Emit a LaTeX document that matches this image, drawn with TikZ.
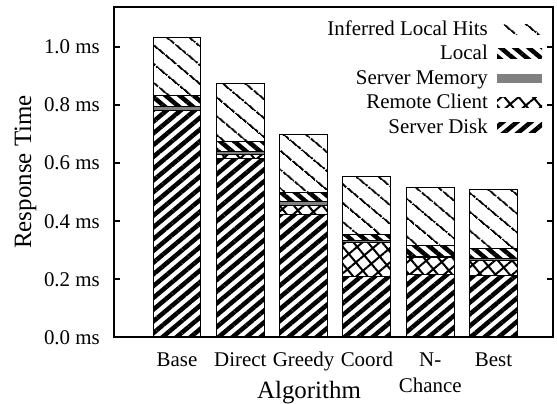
\documentclass[tikz,border=0pt]{standalone}
\usepackage{fontspec}
\setmainfont{Liberation Serif}
\usetikzlibrary{patterns.meta}
\definecolor{memgray}{RGB}{128,128,128}

\begin{document}
\begin{tikzpicture}[
    x=1bp, y=1bp,
    bar/.style={draw, line width=1bp},
    disk/.style={pattern={Lines[angle=40, distance=9bp, line width=4.5bp]}},
    remote/.style={pattern={Hatch[angle=40, distance=11bp, line width=2bp]}},
    mem/.style={fill=memgray},
    local/.style={pattern={Lines[angle=-40, distance=9bp, line width=4.5bp]}},
    inferred/.style={pattern={Lines[angle=-40, distance=15bp, line width=2bp]}},
    tickmark/.style={line width=1.5bp},
    ticklabel/.style={font=\fontsize{21}{26}\selectfont, inner sep=0pt},
    axislabel/.style={font=\fontsize{25}{28}\selectfont, inner sep=0pt}
]

% Page
\fill[white] (0,0) rectangle (557,403);
\useasboundingbox (0,0) rectangle (557,403);

\begin{scope}[shift={(177,66)}, x=63.3bp, y=290bp]

% Base
\draw[bar, disk] (-0.379,0) rectangle (0.379,0.780);
\draw[bar, mem] (-0.379,0.780) rectangle (0.379,0.794);
\draw[bar, local] (-0.379,0.794) rectangle (0.379,0.834);
\draw[bar, inferred] (-0.379,0.834) rectangle (0.379,1.032);

% Direct
\draw[bar, disk] (0.621,0) rectangle (1.379,0.616);
\draw[bar, remote] (0.621,0.616) rectangle (1.379,0.630);
\draw[bar, mem] (0.621,0.630) rectangle (1.379,0.639);
\draw[bar, local] (0.621,0.639) rectangle (1.379,0.674);
\draw[bar, inferred] (0.621,0.674) rectangle (1.379,0.875);

% Greedy
\draw[bar, disk] (1.621,0) rectangle (2.379,0.421);
\draw[bar, remote] (1.621,0.421) rectangle (2.379,0.452);
\draw[bar, mem] (1.621,0.452) rectangle (2.379,0.466);
\draw[bar, local] (1.621,0.466) rectangle (2.379,0.498);
\draw[bar, inferred] (1.621,0.498) rectangle (2.379,0.700);

% Coord
\draw[bar, disk] (2.621,0) rectangle (3.379,0.208);
\draw[bar, remote] (2.621,0.208) rectangle (3.379,0.325);
\draw[bar, mem] (2.621,0.325) rectangle (3.379,0.334);
\draw[bar, local] (2.621,0.334) rectangle (3.379,0.352);
\draw[bar, inferred] (2.621,0.352) rectangle (3.379,0.555);

% N-Chance
\draw[bar, disk] (3.621,0) rectangle (4.379,0.216);
\draw[bar, remote] (3.621,0.216) rectangle (4.379,0.275);
\draw[bar, mem] (3.621,0.275) rectangle (4.379,0.279);
\draw[bar, local] (3.621,0.279) rectangle (4.379,0.316);
\draw[bar, inferred] (3.621,0.316) rectangle (4.379,0.516);

% Best
\draw[bar, disk] (4.621,0) rectangle (5.379,0.211);
\draw[bar, remote] (4.621,0.211) rectangle (5.379,0.263);
\draw[bar, mem] (4.621,0.263) rectangle (5.379,0.270);
\draw[bar, local] (4.621,0.270) rectangle (5.379,0.306);
\draw[bar, inferred] (4.621,0.306) rectangle (5.379,0.507);

% Frame and ticks
\draw[line width=2bp] (-0.995,0) rectangle (5.94,1.138);
\draw[tickmark] (-0.995,0.2) -- +(6bp,0) (5.94,0.2) -- +(-6bp,0);
\draw[tickmark] (-0.995,0.4) -- +(6bp,0) (5.94,0.4) -- +(-6bp,0);
\draw[tickmark] (-0.995,0.6) -- +(6bp,0) (5.94,0.6) -- +(-6bp,0);
\draw[tickmark] (-0.995,0.8) -- +(6bp,0) (5.94,0.8) -- +(-6bp,0);
\draw[tickmark] (-0.995,1.0) -- +(6bp,0) (5.94,1.0) -- +(-6bp,0);

% Tick labels
\node[ticklabel, anchor=base east, yshift=-7bp] (y00) at (-1.216,0.0) {0.0 ms};
\node[ticklabel, anchor=base east, yshift=-7bp] (y02) at (-1.216,0.2) {0.2 ms};
\node[ticklabel, anchor=base east, yshift=-7bp] (y04) at (-1.216,0.4) {0.4 ms};
\node[ticklabel, anchor=base east, yshift=-7bp] (y06) at (-1.216,0.6) {0.6 ms};
\node[ticklabel, anchor=base east, yshift=-7bp] (y08) at (-1.216,0.8) {0.8 ms};
\node[ticklabel, anchor=base east, yshift=-7bp] (y10) at (-1.216,1.0) {1.0 ms};

\node[ticklabel, anchor=base] (xbase) at (0,-0.1) {Base};
\node[ticklabel, anchor=base] (xdirect) at (1,-0.1) {Direct};
\node[ticklabel, anchor=base] (xgreedy) at (2,-0.1) {Greedy};
\node[ticklabel, anchor=base] (xcoord) at (3,-0.1) {Coord};
\node[ticklabel, anchor=base, align=center] (xnchance) at (4,-0.19) {N-\\Chance};
\node[ticklabel, anchor=base] (xbest) at (5,-0.1) {Best};

\end{scope}

% Axis labels
\node[axislabel, rotate=90, anchor=base] (ylabel) at (31,231) {Response Time};
\node[axislabel, anchor=base] (xlabel) at (309,5) {Algorithm};

% Legend
\node[ticklabel, anchor=base east] (kinferred) at (488,368) {Inferred Local Hits};
\path[inferred] (497,369) rectangle (542,378.5);
\node[ticklabel, anchor=base east] (klocal) at (488,344) {Local};
\path[local] (497,345) rectangle (542,354.5);
\node[ticklabel, anchor=base east] (kmem) at (488,319) {Server Memory};
\path[mem] (497,320) rectangle (542,329.5);
\node[ticklabel, anchor=base east] (kremote) at (488,295) {Remote Client};
\path[remote] (497,296) rectangle (542,305.5);
\node[ticklabel, anchor=base east] (kdisk) at (488,270) {Server Disk};
\path[disk] (497,271) rectangle (542,280.5);

\end{tikzpicture}
\end{document}
